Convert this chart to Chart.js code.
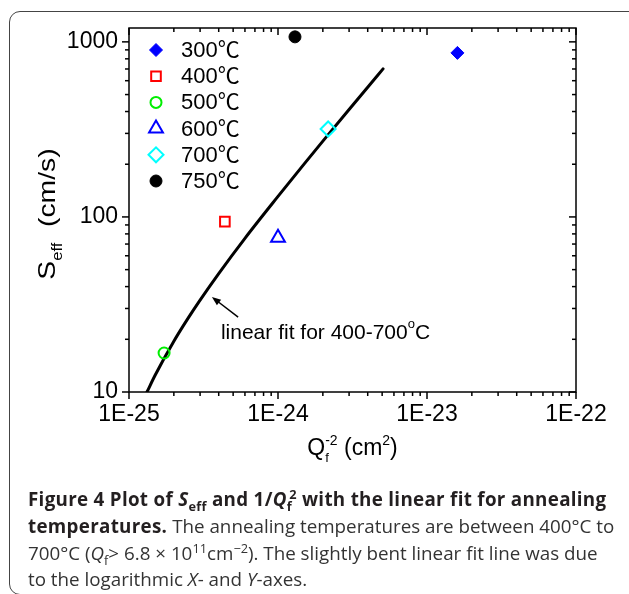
<!DOCTYPE html>
<html>
<head>
<meta charset="utf-8">
<script src="https://cdn.jsdelivr.net/npm/chart.js@4.4.6/dist/chart.umd.min.js"></script>
<style>
  html, body { margin: 0; padding: 0; background: #fff; }
  body { width: 629px; height: 594px; position: relative; overflow: hidden; }
  #frame { position: absolute; left: 9px; top: 11px; width: 640px; height: 584px;
           border: 1.5px solid #444; border-radius: 11px; box-sizing: border-box; }
  #c { position: absolute; left: 0; top: 0; }
  #caption { position: absolute; left: 28px; top: 486px; white-space: nowrap;
             font-family: "Open Sans", sans-serif; font-size: 18.8px; line-height: 26.8px; color: #333; }
  #caption b { color: #231f20; letter-spacing: 0.3px; }
  sub, sup { font-size: 0.68em; line-height: 0; }
</style>
</head>
<body>
<div id="frame"></div>
<canvas id="c" width="629" height="594"></canvas>
<div id="caption">
  <div><b>Figure 4 Plot of <i>S</i><sub>eff</sub> and 1/<i>Q</i><sub>f</sub><sup style="margin-left:-0.22em">2</sup> with the linear fit for annealing</b></div>
  <div><b>temperatures.</b> The annealing temperatures are between 400°C to</div>
  <div>700°C (<i>Q</i><sub>f</sub>&gt; 6.8 × 10<sup>11</sup>cm<sup>−2</sup>). The slightly bent linear fit line was due</div>
  <div>to the logarithmic <i>X</i>- and <i>Y</i>-axes.</div>
</div>
<script>
/* measured points, one per annealing temperature */
const tempLabels = ["300℃", "400℃", "500℃", "600℃", "700℃", "750℃"];
const qValues = [1.6e-23, 4.4e-25, 1.72e-25, 1.0e-24, 2.17e-24, 1.3e-24];   // Qf^-2 (cm^2)
const sValues = [865, 94, 16.7, 76, 318, 1068];                             // Seff (cm/s)

/* linear fit for 400-700 C */
const fitQ = [1.32e-25, 1.5e-25, 2e-25, 2.5e-25, 3e-25, 4e-25, 6e-25, 1e-24, 1.5e-24, 2e-24, 3e-24, 4e-24, 5.07e-24];
const fitS = [10, 12.5, 19.5, 26.5, 33.5, 47.5, 75.5, 131, 201, 271, 411, 551, 701];

/* axes */
const xTickValues = [1e-25, 1e-24, 1e-23, 1e-22];
const xTickLabels = ["1E-25", "1E-24", "1E-23", "1E-22"];
const yTickValues = [10, 100, 1000];
const yTickLabels = ["10", "100", "1000"];
const minorSteps = [2, 3, 4, 5, 6, 7, 8, 9];

/* annotation, in data units */
const noteText = "linear fit for 400-700";
const noteAt = [4.14e-25, 22.0];
const arrowFrom = [5.4e-25, 26.8];
const arrowTo = [3.6e-25, 34.9];

const FONT = '"Liberation Sans", "Noto Sans CJK SC", Arial, sans-serif';
const fontOf = (s) => s + 'px ' + FONT;

/* marker style per temperature */
const markers = [
  { pointStyle: 'rectRot',  radius: 6.5, bg: '#0000ff', border: '#0000ff', bw: 1 },
  { pointStyle: 'rect',     radius: 6.8, bg: 'rgba(0,0,0,0)', border: '#ff0000', bw: 2 },
  { pointStyle: 'circle',   radius: 5.5, bg: 'rgba(0,0,0,0)', border: '#00ee00', bw: 2 },
  { pointStyle: 'triangle', radius: 8,   bg: 'rgba(0,0,0,0)', border: '#0000ff', bw: 2 },
  { pointStyle: 'rectRot',  radius: 7.5, bg: 'rgba(0,0,0,0)', border: '#00ffff', bw: 2 },
  { pointStyle: 'circle',   radius: 6,   bg: '#000000', border: '#000000', bw: 1 },
];

function withMinors(decades, min, max) {
  const out = [];
  decades.forEach(d => {
    out.push(d);
    minorSteps.forEach(m => out.push(d * m));
  });
  return out.filter(v => v >= min * 0.999 && v <= max * 1.001);
}

const xMin = 1e-25, xMax = 1e-22, yMin = 10, yMax = 1200;
const xAllTicks = withMinors(xTickValues, xMin, xMax);
const yAllTicks = withMinors(yTickValues, yMin, yMax);

function layoutRich(ctx, parts) {
  let x = 0, stackStart = null, stackW = 0;
  const items = [];
  for (const p of parts) {
    ctx.font = fontOf(p.s);
    const w = ctx.measureText(p.t).width;
    if (stackStart !== null) {
      items.push({ ...p, x: stackStart });
      x = stackStart + Math.max(stackW, w);
      stackStart = null;
    } else if (p.keep) {
      items.push({ ...p, x });
      stackStart = x; stackW = w;
    } else {
      items.push({ ...p, x });
      x += w;
    }
  }
  return { items, width: x };
}

function drawRich(ctx, parts, cx, baseY, opts = {}) {
  const { items, width } = layoutRich(ctx, parts);
  ctx.save();
  ctx.translate(cx, baseY);
  if (opts.rotate) ctx.rotate(-Math.PI / 2);
  if (opts.stretch) ctx.scale(opts.stretch, 1);
  ctx.textBaseline = 'alphabetic';
  ctx.textAlign = 'left';
  ctx.fillStyle = '#000';
  const x0 = opts.left ? 0 : -width / 2;
  items.forEach(it => {
    ctx.font = fontOf(it.s);
    ctx.fillText(it.t, x0 + it.x, it.dy || 0);
  });
  ctx.restore();
}

const decor = {
  id: 'decor',
  afterDraw(chart) {
    const { ctx, chartArea: a, scales: { x, y } } = chart;
    ctx.save();
    ctx.strokeStyle = '#000';
    ctx.lineWidth = 1.5;
    ctx.strokeRect(a.left, a.top, a.right - a.left, a.bottom - a.top);

    const seg = (x1, y1, x2, y2) => { ctx.beginPath(); ctx.moveTo(x1, y1); ctx.lineTo(x2, y2); ctx.stroke(); };
    xAllTicks.forEach(v => {
      const px = x.getPixelForValue(v);
      const len = xTickValues.includes(v) ? 7 : 4;
      seg(px, a.bottom, px, a.bottom + len);
      seg(px, a.top, px, a.top + len);
    });
    yAllTicks.forEach(v => {
      const py = y.getPixelForValue(v);
      const len = yTickValues.includes(v) ? 7 : 4;
      seg(a.left - len, py, a.left, py);
      seg(a.right - len, py, a.right, py);
    });

    // legend inside the plot, top left
    ctx.font = fontOf(22);
    ctx.textBaseline = 'middle';
    ctx.textAlign = 'left';
    tempLabels.forEach((lab, i) => {
      const m = markers[i];
      const ly = a.top + 22 + i * 26.2;
      ctx.fillStyle = m.bg;
      ctx.strokeStyle = m.border;
      ctx.lineWidth = m.bw;
      Chart.helpers.drawPoint(ctx, { pointStyle: m.pointStyle, radius: m.radius, rotation: 0, borderWidth: m.bw }, a.left + 27, ly);
      ctx.fillStyle = '#000';
      ctx.fillText(lab, a.left + 52, ly + 1);
    });

    // arrow + note
    const fx = x.getPixelForValue(arrowFrom[0]), fy = y.getPixelForValue(arrowFrom[1]);
    const tx = x.getPixelForValue(arrowTo[0]), ty = y.getPixelForValue(arrowTo[1]);
    const ang = Math.atan2(ty - fy, tx - fx);
    ctx.strokeStyle = '#000';
    ctx.fillStyle = '#000';
    ctx.lineWidth = 1.5;
    seg(fx, fy, tx - 5 * Math.cos(ang), ty - 5 * Math.sin(ang));
    ctx.beginPath();
    ctx.moveTo(tx, ty);
    ctx.lineTo(tx - 9 * Math.cos(ang) + 3.5 * Math.sin(ang), ty - 9 * Math.sin(ang) - 3.5 * Math.cos(ang));
    ctx.lineTo(tx - 9 * Math.cos(ang) - 3.5 * Math.sin(ang), ty - 9 * Math.sin(ang) + 3.5 * Math.cos(ang));
    ctx.closePath();
    ctx.fill();

    const nx = x.getPixelForValue(noteAt[0]), ny = y.getPixelForValue(noteAt[1]);
    drawRich(ctx, [
      { t: noteText, s: 21 },
      { t: 'o', s: 13, dy: -11 },
      { t: 'C', s: 21 },
    ], nx, ny + 7, { left: true });

    // axis titles
    drawRich(ctx, [
      { t: 'Q', s: 23 },
      { t: 'f', s: 13, dy: 7, keep: true },
      { t: '-2', s: 14, dy: -10 },
      { t: ' (cm', s: 23 },
      { t: '2', s: 14, dy: -10 },
      { t: ')', s: 23 },
    ], (a.left + a.right) / 2, a.bottom + 63);

    drawRich(ctx, [
      { t: 'S', s: 24 },
      { t: 'eff', s: 14, dy: 7 },
      { t: '  (cm/s)', s: 24 },
    ], 55, 214, { rotate: true, stretch: 1.18 });

    ctx.restore();
  }
};

const datasets = tempLabels.map((lab, i) => ({
  label: lab,
  data: [{ x: qValues[i], y: sValues[i] }],
  pointStyle: markers[i].pointStyle,
  pointRadius: markers[i].radius,
  pointBackgroundColor: markers[i].bg,
  pointBorderColor: markers[i].border,
  pointBorderWidth: markers[i].bw,
  order: 0,
}));

datasets.push({
  label: 'linear fit',
  data: fitQ.map((q, i) => ({ x: q, y: fitS[i] })),
  showLine: true,
  borderColor: '#000',
  borderWidth: 3,
  borderCapStyle: 'round',
  cubicInterpolationMode: 'monotone',
  pointRadius: 0,
  order: 10,
});

const tickFont = { family: FONT, size: 23 };

new Chart(document.getElementById('c'), {
  type: 'scatter',
  data: { datasets },
  options: {
    responsive: false,
    animation: false,
    layout: { padding: { left: 59, right: 53, top: 28, bottom: 152 } },
    plugins: { legend: { display: false }, tooltip: { enabled: false } },
    scales: {
      x: {
        type: 'logarithmic', min: xMin, max: xMax, position: 'bottom',
        grid: { display: false, drawTicks: false },
        border: { display: false },
        afterBuildTicks: s => { s.ticks = xAllTicks.map(v => ({ value: v })); },
        afterFit: s => { s.height = 50; },
        ticks: {
          autoSkip: false, maxRotation: 0, padding: 9, color: '#000', font: tickFont,
          callback: v => { const k = xTickValues.indexOf(v); return k >= 0 ? xTickLabels[k] : ''; }
        }
      },
      y: {
        type: 'logarithmic', min: yMin, max: yMax, position: 'left',
        grid: { display: false, drawTicks: false },
        border: { display: false },
        afterBuildTicks: s => { s.ticks = yAllTicks.map(v => ({ value: v })); },
        afterFit: s => { s.width = 70; },
        ticks: {
          autoSkip: false, padding: 11, color: '#000', font: tickFont,
          callback: v => { const k = yTickValues.indexOf(v); return k >= 0 ? yTickLabels[k] : ''; }
        }
      }
    }
  },
  plugins: [decor]
});
</script>
</body>
</html>
